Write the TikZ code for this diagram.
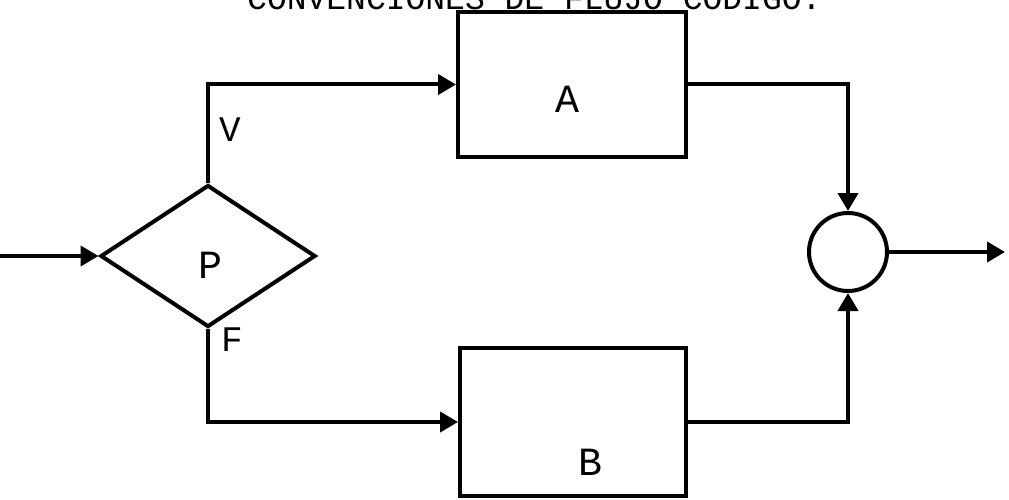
\documentclass[tikz,border=0pt]{standalone}
\usepackage{fontspec}
\setmainfont{Liberation Mono}
\usetikzlibrary{shapes.geometric,arrows.meta}
\begin{document}
\begin{tikzpicture}[x=1pt,y=-1pt,
  ln/.style={line width=4pt},
  arr/.style={ln,-{Triangle[length=18pt,width=20pt]}},
  boxst/.style={draw,ln,rectangle,inner sep=0pt},
  lbl/.style={font=\fontsize{40}{40}\selectfont,inner sep=0pt},
  small/.style={font=\fontsize{36}{36}\selectfont,inner sep=0pt}]
\useasboundingbox (0,0) rectangle (1009,500);
\node[font=\fontsize{33}{33}\selectfont,anchor=base west,inner sep=0pt] (title) at (247,10) {CONVENCIONES DE FLUJO CODIGO:};
\node[draw,ln,diamond,minimum width=215pt,minimum height=142pt,inner sep=0pt] (d) at (208,256) {};
\node[boxst,minimum width=228pt,minimum height=145pt] (A) at (572,84.5) {};
\node[boxst,minimum width=226pt,minimum height=148pt] (B) at (573,422) {};
\node[draw,ln,circle,minimum size=78pt,inner sep=0pt] (c) at (848,252) {};
\node[lbl] (pl) at (210,265) {P};
\node[lbl] (al) at (567,99) {A};
\node[lbl] (bl) at (590,462) {B};
\node[small] (vl) at (230,130) {V};
\node[small] (fl) at (232,340) {F};
\coordinate (in) at (0,256);
\coordinate (out) at (1005,252);
\draw[arr] (in) -- (d.west);
\draw[arr] (d.north) |- (A.west);
\draw[arr] (d.south) |- (B.west);
\draw[arr] (A.east) -| (c.north);
\draw[arr] (B.east) -| (c.south);
\draw[arr] (c.east) -- (out);
\end{tikzpicture}
\end{document}
